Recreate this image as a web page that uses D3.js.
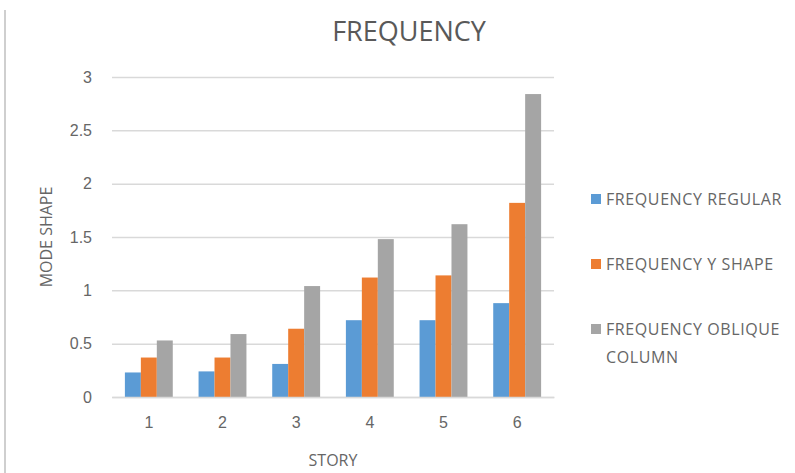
<!DOCTYPE html>
<html>
<head>
<meta charset="utf-8">
<script src="https://cdn.jsdelivr.net/npm/d3@7/dist/d3.min.js"></script>
<style>
  body { margin: 0; background: #fff; }
  svg { display: block; font-family: 'Open Sans', sans-serif; }
</style>
</head>
<body>
<div id="chart"></div>
<script>
// chart data
var stories = ['1', '2', '3', '4', '5', '6'];
var seriesNames = ['FREQUENCY REGULAR', 'FREQUENCY Y SHAPE', 'FREQUENCY OBLIQUE COLUMN'];
var regular = [0.23, 0.24, 0.31, 0.72, 0.72, 0.88];
var yShape = [0.37, 0.37, 0.64, 1.12, 1.14, 1.82];
var oblique = [0.53, 0.59, 1.04, 1.48, 1.62, 2.84];
var yTicks = [0, 0.5, 1, 1.5, 2, 2.5, 3];
var colors = ['#5b9bd5', '#ed7d31', '#a5a5a5'];

var width = 795
  , height = 473
  , margin = {top: 77, right: 241, bottom: 76, left: 112}
  , innerW = width - margin.left - margin.right
  , innerH = height - margin.top - margin.bottom;

var svg = d3.select('#chart')
  .append('svg')
  .attr('width', width)
  .attr('height', height);

// left frame edge of the pasted chart
svg.append('line')
  .attr('x1', 5).attr('x2', 5)
  .attr('y1', 10).attr('y2', height)
  .attr('stroke', '#cfcfcf')
  .attr('stroke-width', 2);

var g = svg.append('g')
  .attr('transform', 'translate(' + margin.left + ',' + margin.top + ')');

var x0 = d3.scaleBand().domain(stories).range([0, innerW]).paddingInner(0.35).paddingOuter(0.175);
var x1 = d3.scaleBand().domain(d3.range(seriesNames.length)).range([0, x0.bandwidth()]);
var y = d3.scaleLinear().domain([0, 3]).range([innerH, 0]);

// gridlines
var yAxis = d3.axisLeft(y)
  .tickValues(yTicks)
  .tickSizeInner(-innerW)
  .tickSizeOuter(0)
  .tickPadding(20)
  .tickFormat(function (d) { return d; });

g.append('g')
  .attr('class', 'y axis')
  .call(yAxis)
  .call(function (s) {
    s.select('.domain').remove();
    s.selectAll('g.tick line').attr('stroke', '#d9d9d9').attr('stroke-width', 1.5);
    s.selectAll('g.tick text')
      .attr('fill', '#666')
      .style('font-size', '16px');
  });

// bars
var rows = stories.map(function (s, i) { return [regular[i], yShape[i], oblique[i]]; });

g.append('g').selectAll('g')
  .data(rows)
  .join('g')
  .attr('transform', function (d, i) { return 'translate(' + x0(stories[i]) + ',0)'; })
  .selectAll('rect')
  .data(function (d) { return d; })
  .join('rect')
  .attr('x', function (d, j) { return x1(j); })
  .attr('width', x1.bandwidth())
  .attr('y', function (d) { return y(d); })
  .attr('height', function (d) { return innerH - y(d); })
  .attr('fill', function (d, j) { return colors[j]; });

// x axis
var xAxis = d3.axisBottom(x0).tickSize(0).tickPadding(20);
g.append('g')
  .attr('class', 'x axis')
  .attr('transform', 'translate(0,' + innerH + ')')
  .call(xAxis)
  .call(function (s) {
    s.select('.domain').attr('stroke', '#d9d9d9').attr('stroke-width', 1.5);
    s.selectAll('g.tick text').attr('fill', '#666').style('font-size', '16px');
  });

// titles
svg.append('text')
  .attr('x', 409)
  .attr('y', 41)
  .attr('text-anchor', 'middle')
  .attr('fill', '#595959')
  .style('font-size', '27px')
  .text('FREQUENCY');

svg.append('text')
  .attr('x', margin.left + innerW / 2)
  .attr('y', 466)
  .attr('text-anchor', 'middle')
  .attr('fill', '#666')
  .style('font-size', '16px')
  .text('STORY');

svg.append('text')
  .attr('transform', 'rotate(-90)')
  .attr('x', -237)
  .attr('y', 52)
  .attr('text-anchor', 'middle')
  .attr('fill', '#666')
  .style('font-size', '16px')
  .text('MODE SHAPE');

// legend
var legendLines = [['FREQUENCY REGULAR'], ['FREQUENCY Y SHAPE'], ['FREQUENCY OBLIQUE', 'COLUMN']];
var legendY = [199, 264, 329];

var legend = svg.append('g').attr('class', 'legend');
legendLines.forEach(function (lines, i) {
  legend.append('rect')
    .attr('x', 591)
    .attr('y', legendY[i] - 5)
    .attr('width', 10)
    .attr('height', 10)
    .attr('fill', colors[i]);
  lines.forEach(function (t, k) {
    legend.append('text')
      .attr('x', 606)
      .attr('y', legendY[i] + k * 28)
      .attr('dy', '0.35em')
      .attr('fill', '#666')
      .style('font-size', '16px')
      .style('letter-spacing', '0.6px')
      .text(t);
  });
});
</script>
</body>
</html>
